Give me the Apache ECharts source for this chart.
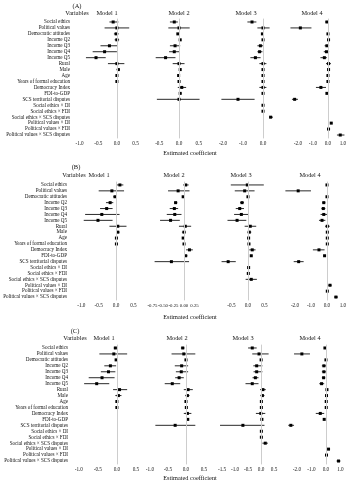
<!DOCTYPE html>
<html>
<head>
<meta charset="utf-8">
<script src="https://cdn.jsdelivr.net/npm/echarts@6/dist/echarts.min.js"></script>
<style>
  html, body { margin: 0; padding: 0; background: #fff; }
  #chart { width: 350px; height: 484px; }
</style>
</head>
<body>
<div id="chart"></div>
<script>
// variables, top to bottom
const variables = [
  'Social ethics', 'Political values', 'Democratic attitudes', 'Income Q2', 'Income Q3',
  'Income Q4', 'Income Q5', 'Rural', 'Male', 'Age', 'Years of formal education',
  'Democracy Index', 'FDI-to-GDP', 'SCS territorial disputes', 'Social ethics × DI',
  'Social ethics × FDI', 'Social ethics × SCS disputes', 'Political values × DI',
  'Political values × FDI', 'Political values × SCS disputes'
];

// [estimate, lower, upper] per variable, null = not in model
const panelA_m1 = [
  [-0.1, -0.2, 0.04], [0.0, -0.33, 0.33], [-0.02, -0.08, 0.05], [0.0, -0.06, 0.06],
  [-0.2, -0.44, 0.01], [-0.33, -0.65, 0.0], [-0.56, -0.83, -0.3], [0.0, -0.24, 0.2],
  [0.04, -0.01, 0.08], [0.0, -0.02, 0.02], [0.0, -0.02, 0.02],
  null, null, null, null, null, null, null, null, null
];
const panelA_m2 = [
  [-0.12, -0.23, -0.03], [0.0, -0.27, 0.27], [-0.03, -0.05, 0.0], [0.03, 0.0, 0.05],
  [-0.1, -0.23, 0.03], [-0.12, -0.25, 0.01], [-0.34, -0.59, -0.09], [0.0, -0.16, 0.14],
  [0.03, 0.01, 0.05], [-0.01, -0.02, 0.0], [0.0, -0.01, 0.01], [0.07, -0.03, 0.18],
  [0.03, 0.01, 0.06], [0.0, -0.56, 0.52],
  null, null, null, null, null, null
];
const panelA_m3 = [
  [-0.55, -0.78, -0.33], [0.0, -0.28, 0.33], [-0.03, -0.06, 0.0], [0.0, -0.03, 0.03],
  [-0.13, -0.28, 0.02], [-0.17, -0.28, -0.03], [-0.38, -0.63, -0.12], [0.0, -0.18, 0.17],
  [0.0, -0.03, 0.03], [0.0, -0.02, 0.02], [0.0, -0.02, 0.02], [0.0, -0.18, 0.17],
  [0.0, -0.02, 0.02], [-1.25, -2.08, -0.42], [0.0, -0.02, 0.02], [0.0, -0.02, 0.02],
  [0.38, 0.3, 0.5], null, null, null
];
const panelA_m4 = [
  [-0.07, -0.18, 0.04], [-1.84, -2.5, -1.1], [0.0, -0.04, 0.04], [0.04, 0.0, 0.08],
  [-0.07, -0.22, 0.08], [-0.1, -0.28, 0.08], [-0.24, -0.5, -0.07], [0.04, -0.13, 0.2],
  [0.04, 0.0, 0.08], [0.0, -0.03, 0.03], [0.0, -0.03, 0.03], [-0.47, -0.8, -0.13],
  [-0.07, -0.12, -0.02], [-2.22, -2.4, -2.0], null, null, null,
  [0.22, 0.16, 0.28], [0.04, 0.0, 0.08], [0.82, 0.6, 1.1]
];

const panelB_m1 = [
  [0.11, 0.02, 0.21], [-0.12, -0.5, 0.23], [-0.03, -0.08, 0.02], [-0.17, -0.29, -0.08],
  [-0.27, -0.46, -0.1], [-0.41, -0.89, 0.1], [-0.52, -0.93, -0.1], [0.05, -0.19, 0.3],
  [0.05, 0.0, 0.1], [0.01, -0.01, 0.03], [0.01, -0.01, 0.03],
  null, null, null, null, null, null, null, null, null
];
const panelB_m2 = [
  [0.04, -0.02, 0.11], [-0.14, -0.38, 0.13], [-0.02, -0.04, 0.0], [-0.2, -0.23, -0.16],
  [-0.23, -0.34, -0.14], [-0.22, -0.41, -0.06], [-0.32, -0.57, -0.1], [0.03, -0.12, 0.17],
  [0.0, -0.05, 0.04], [-0.02, -0.03, 0.0], [0.0, -0.01, 0.01], [0.13, 0.05, 0.21],
  [0.04, 0.0, 0.08], [-0.3, -0.7, 0.12],
  null, null, null, null, null, null
];
const panelB_m3 = [
  [-0.02, -0.52, 0.48], [-0.1, -0.4, 0.2], [0.0, -0.02, 0.02], [-0.18, -0.24, -0.12],
  [-0.25, -0.37, -0.12], [-0.2, -0.42, 0.02], [-0.33, -0.62, -0.05], [0.07, -0.1, 0.25],
  [0.04, -0.02, 0.1], [0.02, 0.0, 0.04], [0.03, 0.01, 0.05], [0.13, 0.04, 0.23],
  [0.1, 0.07, 0.13], [-0.6, -0.8, -0.37], [0.02, 0.0, 0.04], [0.01, -0.01, 0.03],
  [0.1, -0.07, 0.27], null, null, null
];
const panelB_m4 = [
  [0.0, -0.04, 0.04], [-1.8, -2.6, -1.0], [0.0, -0.03, 0.03], [-0.2, -0.29, -0.1],
  [-0.23, -0.35, -0.1], [-0.2, -0.4, 0.0], [-0.31, -0.5, -0.1], [0.02, -0.12, 0.17],
  [0.02, -0.02, 0.06], [0.02, 0.0, 0.04], [0.02, 0.0, 0.04], [-0.5, -0.88, -0.15],
  [-0.15, -0.2, -0.1], [-1.77, -2.08, -1.46], null, null, null,
  [0.19, 0.08, 0.29], [0.02, -0.02, 0.06], [0.56, 0.44, 0.69]
];

const panelC_m1 = [
  [-0.04, -0.08, 0.0], [-0.08, -0.46, 0.27], [-0.02, -0.05, 0.01], [-0.17, -0.33, -0.02],
  [-0.22, -0.42, -0.04], [-0.39, -0.74, -0.06], [-0.53, -0.86, -0.2], [0.07, -0.1, 0.27],
  [0.04, -0.04, 0.12], [0.0, -0.02, 0.02], [0.0, -0.02, 0.02],
  null, null, null, null, null, null, null, null, null
];
const panelC_m2 = [
  [-0.09, -0.14, -0.04], [-0.06, -0.4, 0.26], [0.0, -0.03, 0.03], [-0.12, -0.31, 0.06],
  [-0.13, -0.28, 0.06], [-0.19, -0.3, -0.06], [-0.38, -0.59, -0.16], [0.06, -0.06, 0.19],
  [0.04, -0.02, 0.1], [0.0, -0.02, 0.02], [0.01, -0.01, 0.03], [0.04, -0.06, 0.15],
  [0.05, 0.02, 0.08], [-0.3, -0.85, 0.26],
  null, null, null, null, null, null
];
const panelC_m3 = [
  [-0.34, -0.5, -0.17], [-0.08, -0.34, 0.29], [0.0, -0.03, 0.03], [-0.17, -0.3, 0.05],
  [-0.17, -0.29, 0.05], [-0.22, -0.33, -0.1], [-0.34, -0.6, -0.1], [0.07, -0.04, 0.18],
  [0.05, -0.03, 0.13], [0.01, -0.01, 0.03], [0.01, -0.01, 0.03], [-0.01, -0.2, 0.16],
  [0.03, 0.0, 0.06], [-0.7, -1.58, 0.13], [0.01, -0.02, 0.04], [0.01, -0.02, 0.04],
  [0.16, 0.05, 0.26], null, null, null
];
const panelC_m4 = [
  [-0.07, -0.12, -0.02], [-1.66, -2.2, -1.1], [0.0, -0.03, 0.03], [-0.14, -0.28, 0.0],
  [-0.14, -0.28, 0.0], [-0.16, -0.28, -0.05], [-0.3, -0.46, -0.12], [0.07, 0.0, 0.14],
  [0.04, -0.02, 0.1], [0.02, 0.0, 0.04], [0.02, 0.0, 0.04], [-0.39, -0.7, -0.12],
  [-0.12, -0.18, -0.06], [-2.42, -2.6, -2.2], null, null, null,
  [0.18, 0.1, 0.26], [0.04, 0.0, 0.08], [0.87, 0.73, 1.0]
];

// tick labels per model
const ticksA = [[-1, -0.5, 0, 0.5], [-0.5, 0, 0.5], [-2, -1, 0], [-2, -1, 0, 1]];
const ticksB = [[-1, -0.5, 0, 0.5], [-0.75, -0.5, -0.25, 0, 0.25], [-0.5, 0, 0.5], [-2, -1, 0, 1]];
const ticksC = [[-1, -0.5, 0, 0.5], [-1, -0.5, 0, 0.5], [-1.5, -1, -0.5, 0, 0.5], [-2, -1, 0, 1]];

const modelNames = ['Model 1', 'Model 2', 'Model 3', 'Model 4'];

// layout (pixels): per panel, per model [left, right, min, max, title x]
const FONT = '"Liberation Serif", "DejaVu Serif", serif';
const INK = '#111';
const panels = [
  {
    tag: '(A)', tagX: 77, tagY: 6, headY: 13, top: 19, height: 119, varX: 77, xlabY: 153,
    data: [panelA_m1, panelA_m2, panelA_m3, panelA_m4], ticks: ticksA, dec: [1, 1, 1, 1],
    models: [[77, 143, -1.07, 0.70, 107], [147, 213, -0.81, 0.86, 179],
             [217, 283, -2.3, 1.0, 246], [287, 350, -2.73, 1.47, 312]]
  },
  {
    tag: '(B)', tagX: 76, tagY: 167, headY: 175, top: 182, height: 118, varX: 74, xlabY: 317,
    data: [panelB_m1, panelB_m2, panelB_m3, panelB_m4], ticks: ticksB, dec: [1, 2, 1, 1],
    models: [[74, 139, -1.21, 0.66, 99], [143, 208, -0.976, 0.571, 174],
             [212, 277, -1.09, 0.88, 241], [281, 350, -2.875, 1.44, 310]]
  },
  {
    tag: '(C)', tagX: 75, tagY: 331, headY: 338, top: 345, height: 119, varX: 75, xlabY: 478,
    data: [panelC_m1, panelC_m2, panelC_m3, panelC_m4], ticks: ticksC, dec: [1, 1, 1, 1],
    models: [[75, 142, -1.1, 0.66, 104], [146, 209, -1.11, 0.64, 177],
             [213, 278, -1.85, 0.65, 243], [282, 350, -3.03, 1.66, 310]]
  }
];

function renderItem(params, api) {
  const row = api.value(0);
  const p = api.coord([api.value(1), row]);
  const a = api.coord([api.value(2), row]);
  const b = api.coord([api.value(3), row]);
  return {
    type: 'group',
    children: [
      { type: 'line', shape: { x1: a[0], y1: a[1], x2: b[0], y2: b[1] },
        style: { stroke: '#2a2a2a', lineWidth: 1 } },
      { type: 'rect', shape: { x: p[0] - 1.5, y: p[1] - 1.5, width: 3, height: 3 },
        style: { fill: '#000' } }
    ]
  };
}

const grid = [], xAxis = [], yAxis = [], series = [], graphic = [];

function txt(text, x, y, size, align) {
  graphic.push({
    type: 'text', x: x, y: y, silent: true,
    style: { text: text, font: size + 'px ' + FONT, fill: INK,
             align: align || 'center', verticalAlign: 'middle',
             textAlign: align || 'center', textVerticalAlign: 'middle' }
  });
}

panels.forEach((pn, pi) => {
  txt(pn.tag, pn.tagX, pn.tagY, 6.5);
  txt('Variables', pn.varX, pn.headY, 6.3);
  txt('Estimated coefficient', 190, pn.xlabY, 6.3);
  pn.models.forEach((md, mi) => {
    const k = pi * 4 + mi;
    const [left, right, min, max, titleX] = md;
    const dec = pn.dec[mi];
    txt(modelNames[mi], titleX, pn.headY, 6.3);
    grid.push({ left: left, top: pn.top, width: right - left, height: pn.height,
                containLabel: false, outerBoundsMode: 'none' });
    xAxis.push({
      gridIndex: k, type: 'value', min: min, max: max,
      axisLine: { show: false }, axisTick: { show: false }, splitLine: { show: false },
      axisLabel: {
        customValues: pn.ticks[mi], margin: 3, fontSize: dec === 2 ? 4.8 : 5.2,
        fontFamily: FONT, color: INK, hideOverlap: false,
        showMinLabel: true, showMaxLabel: true,
        formatter: v => v.toFixed(dec)
      }
    });
    yAxis.push({
      gridIndex: k, type: 'category', data: variables, inverse: true,
      axisLine: { show: true, lineStyle: { color: '#cfcfcf', width: 1 } },
      axisTick: { show: false }, splitLine: { show: false },
      axisLabel: { show: mi === 0, interval: 0, margin: 7, fontSize: 5.1, fontFamily: FONT, color: INK }
    });
    // zero reference line
    series.push({
      type: 'scatter', xAxisIndex: k, yAxisIndex: k, data: [], z: 1, silent: true,
      markLine: {
        silent: true, symbol: 'none', label: { show: false },
        lineStyle: { color: '#cdcdcd', width: 1, type: 'solid' },
        data: [{ xAxis: 0 }]
      }
    });
    const rows = pn.data[mi]
      .map((r, i) => (r ? [i, r[0], r[1], r[2]] : null))
      .filter(Boolean);
    series.push({
      type: 'custom', xAxisIndex: k, yAxisIndex: k, z: 3,
      renderItem: renderItem, encode: { x: [1, 2, 3], y: 0 }, data: rows
    });
  });
});

const chart = echarts.init(document.getElementById('chart'), null, { renderer: 'canvas' });
chart.setOption({
  animation: false,
  backgroundColor: '#fff',
  grid, xAxis, yAxis, series, graphic
});
</script>
</body>
</html>
